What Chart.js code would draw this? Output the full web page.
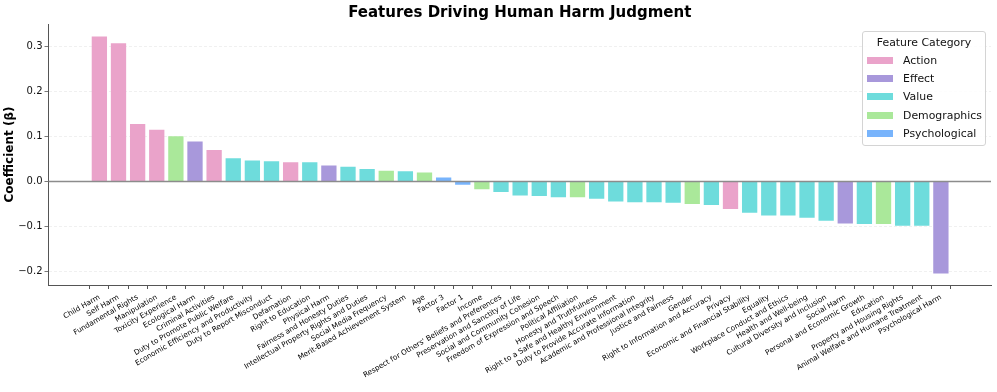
<!DOCTYPE html>
<html>
<head>
<meta charset="utf-8">
<script src="https://cdn.jsdelivr.net/npm/chart.js@4.4.1/dist/chart.umd.min.js"></script>
<style>
body{margin:0;background:#fff}
#wrap{position:relative;width:997px;height:392px}
#legend{position:absolute;left:862px;top:31px;width:122px;height:113px;border:1px solid #d4d4d4;border-radius:3px;background:rgba(255,255,255,0.85);font-family:"DejaVu Sans",sans-serif;font-size:10.9px;color:#111}
#legend .t{text-align:center;margin-top:2px;height:17px;line-height:17px}
#legend .row{height:18.3px;display:flex;align-items:center}
#legend .sw{width:26px;height:7px;margin-left:4px;margin-right:10px}
</style>
</head>
<body>
<div id="wrap">
<canvas id="grafica" width="997" height="392"></canvas>
<div id="legend"></div>
</div>
<script>

/* DATOS */

const labels=[
"Child Harm","Self Harm","Fundamental Rights","Manipulation","Toxicity Experience",
"Ecological Harm","Criminal Activities","Duty to Promote Public Welfare","Economic Efficiency and Productivity","Duty to Report Misconduct",
"Defamation","Right to Education","Physical Harm","Fairness and Honesty Duties","Intellectual Property Rights and Duties",
"Social Media Frequency","Merit-Based Achievement System","Age","Factor 3","Factor 1",
"Income","Respect for Others' Beliefs and Preferences","Preservation and Sanctity of Life","Social and Community Cohesion","Freedom of Expression and Speech",
"Political Affiliation","Honesty and Truthfulness","Right to a Safe and Healthy Environment","Duty to Provide Accurate Information","Academic and Professional Integrity",
"Justice and Fairness","Gender","Right to Information and Accuracy","Privacy","Economic and Financial Stability",
"Equality","Workplace Conduct and Ethics","Health and Well-being","Cultural Diversity and Inclusion","Social Harm",
"Personal and Economic Growth","Education","Property and Housing Rights","Animal Welfare and Humane Treatment","Psychological Harm"
]

const coeficientes=[
0.322,0.307,0.128,0.115,0.101,
0.089,0.070,0.052,0.047,0.045,
0.043,0.043,0.036,0.033,0.028,
0.024,0.023,0.020,0.009,-0.007,
-0.017,-0.023,-0.031,-0.032,-0.035,
-0.035,-0.038,-0.044,-0.046,-0.046,
-0.047,-0.050,-0.052,-0.061,-0.069,
-0.075,-0.075,-0.080,-0.087,-0.093,
-0.094,-0.094,-0.098,-0.098,-0.204
]

const grupos=[
"Action","Action","Action","Action","Demographics",
"Effect","Action","Value","Value","Value",
"Action","Value","Effect","Value","Value",
"Demographics","Value","Demographics","Psychological","Psychological",
"Demographics","Value","Value","Value","Value",
"Demographics","Value","Value","Value","Value",
"Value","Demographics","Value","Action","Value",
"Value","Value","Value","Value","Effect",
"Value","Demographics","Value","Value","Effect"
]

const categorias=["Action","Effect","Value","Demographics","Psychological"]

const yTicks=[-0.2,-0.1,0.0,0.1,0.2,0.3]

const colores={
"Action":"#eaa3ca",
"Effect":"#a898db",
"Value":"#6edcdc",
"Demographics":"#aae89a",
"Psychological":"#78b4fc"
}

const titulo="Features Driving Human Harm Judgment"

/* LEYENDA */

const legend=document.getElementById("legend")

legend.innerHTML=`<div class="t">Feature Category</div>`

categorias.forEach(c=>{

const div=document.createElement("div")

div.className="row"

div.innerHTML=`<span class="sw" style="background:${colores[c]}"></span><span>${c}</span>`

legend.appendChild(div)

})

/* PLUGINS */

const lineaCero={
id:"lineaCero",
afterDatasetsDraw(chart){
const {ctx,chartArea,scales}=chart
const y=scales.y.getPixelForValue(0)
ctx.save()
ctx.strokeStyle="#8c8c8c"
ctx.lineWidth=1.5
ctx.beginPath()
ctx.moveTo(chartArea.left,y)
ctx.lineTo(chartArea.right,y)
ctx.stroke()
ctx.restore()
}
}

const tituloPlugin={
id:"tituloPlugin",
afterDraw(chart){
const {ctx,chartArea}=chart
ctx.save()
ctx.font="bold 15px 'DejaVu Sans'"
ctx.fillStyle="#000"
ctx.textAlign="center"
ctx.textBaseline="middle"
ctx.fillText(titulo,(chartArea.left+chartArea.right)/2,13)
ctx.restore()
}
}

/* GRAFICA */

new Chart(document.getElementById("grafica"),{

type:"bar",

data:{
datasets:[{
data:coeficientes.map((v,i)=>({x:i,y:v})),
backgroundColor:grupos.map(g=>colores[g]),
borderWidth:0,
categoryPercentage:1,
barPercentage:0.8
}]
},

plugins:[lineaCero,tituloPlugin],

options:{
responsive:false,
animation:false,
devicePixelRatio:1,
layout:{padding:{top:24,right:6,left:0,bottom:0}},
plugins:{legend:{display:false},title:{display:false},tooltip:{enabled:false}},
scales:{
x:{
type:"linear",
min:-2.66,
max:46.62,
offset:false,
afterBuildTicks:s=>{s.ticks=labels.map((l,i)=>({value:i}))},
afterFit:s=>{s.height=107},
grid:{drawOnChartArea:false,tickLength:4,tickColor:"#555",tickWidth:1},
border:{color:"#555",width:1},
ticks:{
autoSkip:false,
minRotation:30,
maxRotation:30,
padding:4,
color:"#000",
font:{family:"DejaVu Sans",size:7.3},
callback:v=>labels[v]
}
},
y:{
min:-0.2296,
max:0.350,
afterBuildTicks:s=>{s.ticks=yTicks.map(v=>({value:v}))},
afterFit:s=>{s.width=48.5},
grid:{
color:c=>c.tick&&c.tick.value===0?"rgba(0,0,0,0)":"#ececec",
lineWidth:0.8,
tickLength:4,
tickColor:"#555"
},
border:{color:"#555",width:1,dash:[3,2]},
title:{display:true,text:"Coefficient (\u03b2)",color:"#000",font:{family:"DejaVu Sans",size:12,weight:"bold"},padding:{top:3,bottom:4}},
ticks:{
padding:2,
color:"#111",
font:{family:"DejaVu Sans",size:10},
callback:v=>v.toFixed(1).replace("-","\u2212")
}
}
}
}

})

</script>
</body>
</html>
